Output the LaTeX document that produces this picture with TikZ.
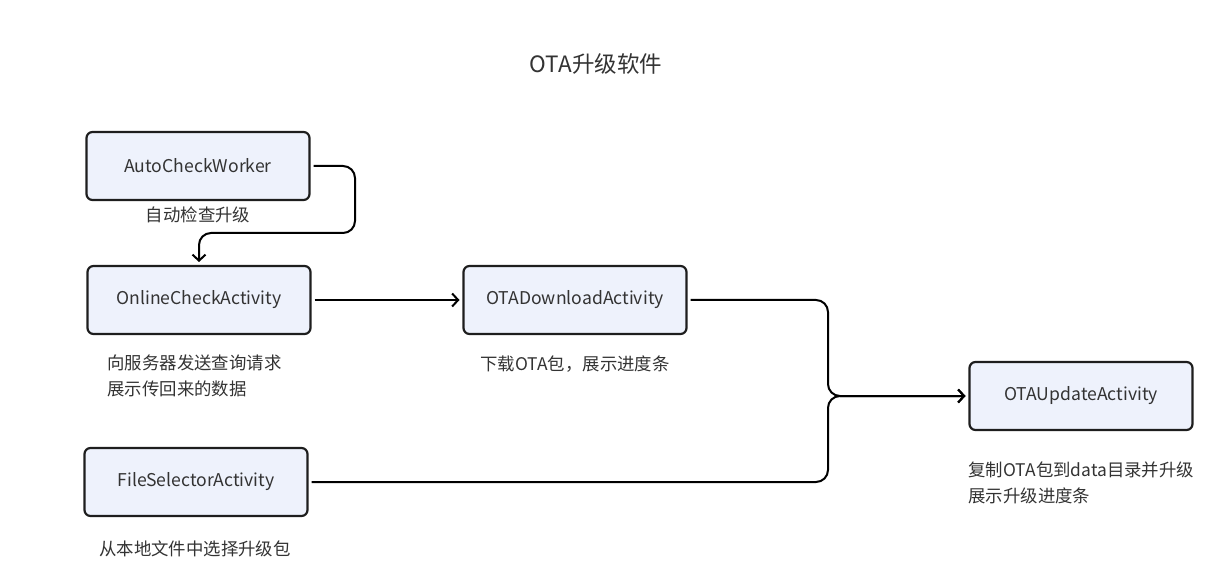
\documentclass[tikz,border=0pt]{standalone}
\usepackage{fontspec}
\setmainfont{Noto Sans CJK SC}
\usepackage{tikz}
\usetikzlibrary{arrows.meta}
\definecolor{boxfill}{HTML}{EEF2FC}
\definecolor{boxline}{HTML}{1E1E1E}
\definecolor{txtgray}{HTML}{333333}
\tikzset{
  actbox/.style={draw=boxline,fill=boxfill,rounded corners=6pt,line width=2.2pt,
    minimum width=223pt,minimum height=68pt,inner sep=0pt,outer sep=4pt,
    text=txtgray,font=\fontsize{17.6}{20}\selectfont},
  actnote/.style={text=txtgray,align=left,font=\fontsize{17.4}{26}\selectfont},
  flowline/.style={line width=2pt,draw=black,rounded corners=12pt},
  flowarr/.style={flowline,-{Straight Barb[length=6pt,width=13pt,line width=2pt]}}
}
\begin{document}
\begin{tikzpicture}[x=1pt,y=-1pt]
  \useasboundingbox (0,0) rectangle (1227,588);
  \node[text=txtgray,font=\fontsize{22.5}{26}\selectfont] (title) at (596,64) {OTA升级软件};
  % activities
  \node[actbox] (auto) at (198,166) {AutoCheckWorker};
  \node[actbox] (online) at (199,300) {OnlineCheckActivity};
  \node[actbox] (download) at (575,300) {OTADownloadActivity};
  \node[actbox] (update) at (1081,396) {OTAUpdateActivity};
  \node[actbox] (filesel) at (196,482) {FileSelectorActivity};
  % notes
  \node[actnote] (autonote) at (198,215) {自动检查升级};
  \node[actnote,anchor=west] (onlinenote) at (104,376) {向服务器发送查询请求\\展示传回来的数据};
  \node[actnote] (dlnote) at (575,364) {下载OTA包，展示进度条};
  \node[actnote,anchor=west] (updnote) at (965,483) {复制OTA包到data目录并升级\\展示升级进度条};
  \node[actnote] (fsnote) at (195,549) {从本地文件中选择升级包};
  % connectors
  \coordinate (bend) at (355,233);
  \coordinate (merge) at (828,396);
  \draw[flowarr] (auto.east) -| (bend) -| (online.north);
  \draw[flowarr] (online.east) -- (download.west);
  \draw[flowarr] (download.east) -| (merge) -- (update.west);
  \draw[flowarr] (filesel.east) -| (merge) -- (update.west);
\end{tikzpicture}
\end{document}
